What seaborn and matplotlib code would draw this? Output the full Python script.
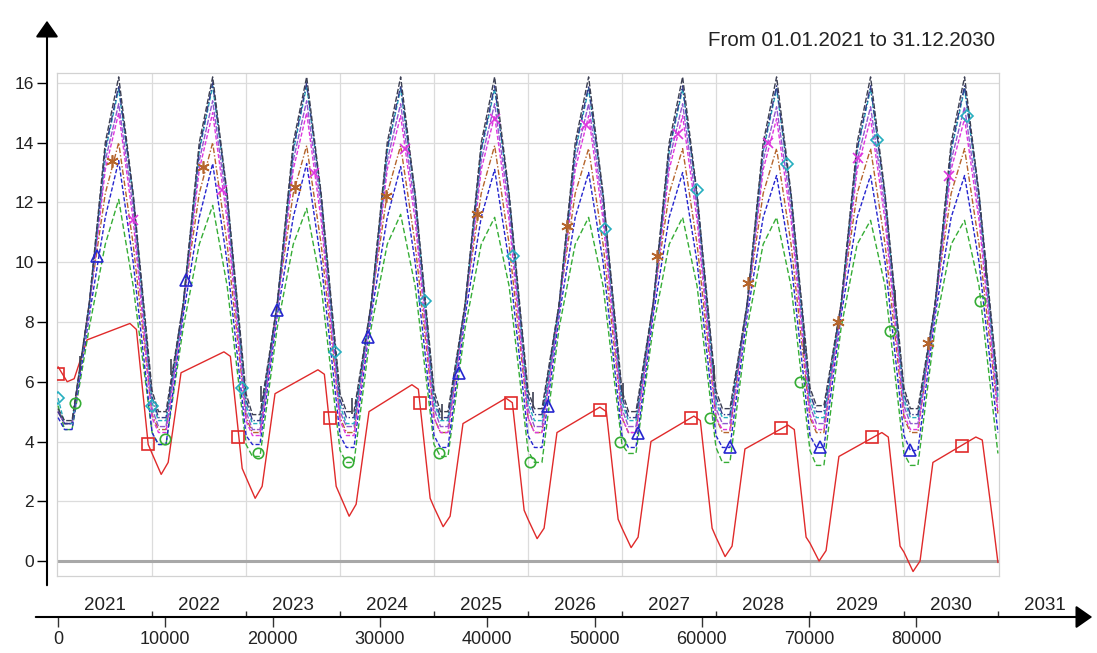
import numpy as np
import pandas as pd
import matplotlib
matplotlib.use("Agg")
import matplotlib.pyplot as plt
import matplotlib.transforms as mtransforms
import seaborn as sns

# ---- data (x = simulation hour, y = value) ----
HOURS_PER_YEAR = 8760
years = [2021, 2022, 2023, 2024, 2025, 2026, 2027, 2028, 2029, 2030, 2031]
hour_ticks = [0, 10000, 20000, 30000, 40000, 50000, 60000, 70000, 80000]
value_ticks = [0, 2, 4, 6, 8, 10, 12, 14, 16]
period_text = "From 01.01.2021 to 31.12.2030"

series_names = ["dark", "navy", "cyan", "purple", "magenta", "brown", "blue", "green"]

# hours into each year of the knots: year start, trough floor (2 pts), low bend, high bend, peak, fall bend
cycle_phase = [0, 600, 1300, 2900, 4400, 5650, 7000]
low_bend = [8.6, 8.6, 8.5, 8.5, 8.4, 8.6, 8.2, 7.8]
high_bend = [14.0, 13.8, 13.7, 13.4, 13.1, 12.3, 11.5, 10.6]
fall_bend = [12.3, 12.2, 12.2, 11.8, 11.4, 10.6, 10.0, 9.2]

dark_start = [5.1, 5.7, 5.6, 5.6, 5.7, 5.7, 5.7, 5.7, 5.8, 5.8, 5.9]
dark_trough = [4.7, 5.0, 4.9, 5.0, 5.0, 5.1, 5.0, 5.1, 5.2, 5.1]
dark_peak = [16.2, 16.2, 16.2, 16.2, 16.2, 16.2, 16.2, 16.2, 16.2, 16.2]

navy_start = [5.0, 5.5, 5.4, 5.4, 5.5, 5.5, 5.5, 5.5, 5.6, 5.6, 5.7]
navy_trough = [4.6, 4.8, 4.7, 4.8, 4.8, 4.9, 4.8, 4.9, 5.0, 4.9]
navy_peak = [15.9, 16.0, 16.0, 15.9, 15.9, 15.9, 15.9, 15.9, 15.9, 15.9]

cyan_start = [5.45, 5.3, 5.2, 5.2, 5.3, 5.3, 5.3, 5.3, 5.4, 5.4, 5.5]
cyan_trough = [4.6, 4.7, 4.6, 4.6, 4.7, 4.7, 4.7, 4.8, 4.8, 4.8]
cyan_peak = [15.8, 15.9, 15.9, 15.8, 15.8, 15.8, 15.8, 15.8, 15.8, 15.8]

purple_start = [5.0, 5.1, 5.0, 5.0, 5.1, 5.1, 5.1, 5.1, 5.2, 5.2, 5.3]
purple_trough = [4.6, 4.5, 4.4, 4.5, 4.5, 4.5, 4.5, 4.6, 4.6, 4.6]
purple_peak = [15.3, 15.4, 15.4, 15.3, 15.3, 15.3, 15.3, 15.2, 15.2, 15.2]

magenta_start = [5.0, 4.8, 4.7, 4.7, 4.8, 4.8, 4.8, 4.8, 4.9, 4.9, 5.0]
magenta_trough = [4.6, 4.3, 4.2, 4.2, 4.3, 4.3, 4.3, 4.4, 4.4, 4.4]
magenta_peak = [15.0, 15.0, 15.0, 14.9, 14.9, 14.9, 14.9, 14.8, 14.8, 14.8]

brown_start = [5.0, 4.9, 4.8, 4.8, 4.8, 4.8, 4.8, 4.8, 4.8, 4.8, 4.9]
brown_trough = [4.6, 4.4, 4.3, 4.3, 4.3, 4.3, 4.3, 4.3, 4.3, 4.3]
brown_peak = [14.0, 14.0, 13.9, 13.9, 13.9, 13.8, 13.8, 13.8, 13.8, 13.8]

blue_start = [4.8, 4.3, 4.2, 4.2, 4.2, 4.2, 4.2, 4.2, 4.2, 4.2, 4.3]
blue_trough = [4.4, 3.9, 3.9, 3.8, 3.8, 3.8, 3.8, 3.8, 3.8, 3.7]
blue_peak = [13.4, 13.3, 13.3, 13.2, 13.1, 13.0, 13.0, 12.9, 12.9, 12.9]

green_start = [5.2, 4.3, 3.9, 3.7, 3.9, 3.7, 3.9, 3.8, 3.7, 3.6, 3.6]
green_trough = [4.4, 3.9, 3.5, 3.3, 3.5, 3.3, 3.6, 3.3, 3.2, 3.2]
green_peak = [12.1, 11.9, 11.8, 11.6, 11.5, 11.5, 11.5, 11.5, 11.4, 11.4]

# red curve has its own yearly shape
red_phase = [0, 850, 1500, 2700, 6700, 7300, 8400]
red_start = [6.5, 3.6, 2.8, 2.2, 1.8, 1.4, 1.1, 0.8, 0.6, 0.3]
red_trough = [6.0, 2.9, 2.1, 1.5, 1.15, 0.75, 0.45, 0.15, 0.0, -0.35]
red_floor = [6.1, 3.3, 2.5, 1.9, 1.5, 1.1, 0.8, 0.5, 0.35, 0.0]
red_bend = [7.4, 6.3, 5.6, 5.0, 4.6, 4.3, 4.0, 3.75, 3.5, 3.3]
red_peak = [7.95, 7.0, 6.4, 5.9, 5.45, 5.15, 4.85, 4.55, 4.3, 4.15]
red_plateau = [7.75, 6.85, 6.25, 5.75, 5.3, 5.0, 4.7, 4.4, 4.15, 4.05]
red_drop = [3.9, 3.1, 2.5, 2.1, 1.7, 1.4, 1.1, 0.8, 0.5, 1.0]
red_end = -0.05

# sparse marker points
square_hours = [0, 8390, 16780, 25350, 33740, 42220, 50510, 59000, 67380, 75860, 84250]
square_values = [6.25, 3.9, 4.15, 4.8, 5.3, 5.3, 5.05, 4.8, 4.45, 4.15, 3.85]
circle_hours = [1580, 9970, 18640, 27030, 35510, 43990, 52380, 60770, 69150, 77540, 85930]
circle_values = [5.3, 4.1, 3.6, 3.3, 3.6, 3.3, 4.0, 4.8, 6.0, 7.7, 8.7]
triangle_hours = [3630, 11930, 20410, 28890, 37370, 45670, 54060, 62630, 71020, 79410]
triangle_values = [10.2, 9.4, 8.4, 7.5, 6.3, 5.2, 4.3, 3.8, 3.8, 3.7]
star_hours = [5030, 13510, 22090, 30570, 39050, 47440, 55830, 64310, 72700, 81080]
star_values = [13.4, 13.2, 12.5, 12.2, 11.6, 11.2, 10.2, 9.3, 8.0, 7.3]
cross_hours = [6990, 15280, 23860, 32340, 40730, 49210, 57780, 66170, 74560, 83040]
cross_values = [11.4, 12.4, 13.0, 13.8, 14.8, 14.6, 14.3, 14.0, 13.5, 12.9]
diamond_hours = [0, 8760, 17150, 25820, 34200, 42410, 50980, 59550, 67940, 76330, 84720]
diamond_values = [5.45, 5.2, 5.8, 7.0, 8.7, 10.2, 11.1, 12.4, 13.3, 14.1, 14.9]
bar_hours = [2050, 10490, 18930, 27370, 35810, 44250, 52690, 61130, 69570, 78010, 86450]
bar_values = [6.6, 6.5, 5.6, 5.2, 5.0, 5.4, 5.7, 6.3, 7.2, 8.8, 9.8]

# ---- long table for seaborn ----
cycles = {
    "dark": (dark_start, dark_trough, dark_peak),
    "navy": (navy_start, navy_trough, navy_peak),
    "cyan": (cyan_start, cyan_trough, cyan_peak),
    "purple": (purple_start, purple_trough, purple_peak),
    "magenta": (magenta_start, magenta_trough, magenta_peak),
    "brown": (brown_start, brown_trough, brown_peak),
    "blue": (blue_start, blue_trough, blue_peak),
    "green": (green_start, green_trough, green_peak),
}
records = []
for i, name in enumerate(series_names):
    start, trough, peak = cycles[name]
    for k in range(len(peak)):
        year0 = k * HOURS_PER_YEAR
        vals = [start[k], trough[k], trough[k], low_bend[i], high_bend[i], peak[k], fall_bend[i]]
        for ph, v in zip(cycle_phase, vals):
            records.append((year0 + ph, v, name))
    records.append((len(peak) * HOURS_PER_YEAR, start[-1], name))

for k in range(len(red_peak)):
    year0 = k * HOURS_PER_YEAR
    vals = [red_start[k], red_trough[k], red_floor[k], red_bend[k], red_peak[k], red_plateau[k], red_drop[k]]
    for ph, v in zip(red_phase, vals):
        records.append((year0 + ph, v, "red"))
records.append((len(red_peak) * HOURS_PER_YEAR, red_end, "red"))

df = pd.DataFrame(records, columns=["hour", "value", "series"])

# ---- style ----
colors = {
    "red": "#e02a2a", "green": "#35ad35", "blue": "#2626cf", "brown": "#b5652c",
    "magenta": "#de36de", "purple": "#9158cf", "cyan": "#25aebf", "navy": "#343a8c",
    "dark": "#3c3f52",
}
dashes = {
    "red": "", "green": (4, 2), "blue": (3, 1.5), "brown": (4, 1.5, 1, 1.5),
    "magenta": (3, 1.5), "purple": (4, 1.2), "cyan": (3, 1.5), "navy": (5, 1.5, 1, 1.5),
    "dark": (4, 1.5),
}
draw_order = ["red", "green", "blue", "brown", "magenta", "purple", "cyan", "navy", "dark"]

sns.set_theme(style="white")
plt.rcParams["font.family"] = ["Liberation Sans", "DejaVu Sans"]
text_color = "#222222"

W, H = 1097, 653
fig = plt.figure(figsize=(W / 100, H / 100), dpi=100)
left_px, right_px, top_px, bottom_px = 57, 999, 73, 576
ax = fig.add_axes([left_px / W, 1 - bottom_px / H, (right_px - left_px) / W, (bottom_px - top_px) / H])

sns.lineplot(data=df, x="hour", y="value", hue="series", style="series",
             hue_order=draw_order, style_order=draw_order, palette=colors, dashes=dashes,
             estimator=None, sort=False, linewidth=1.0, legend=False, ax=ax, zorder=3)

marker_sets = [
    ("red", "s", square_hours, square_values, 8),
    ("green", "o", circle_hours, circle_values, 7.5),
    ("blue", "^", triangle_hours, triangle_values, 8),
    ("brown", (6, 2, 0), star_hours, star_values, 9),
    ("magenta", "x", cross_hours, cross_values, 7.5),
    ("cyan", "D", diamond_hours, diamond_values, 6.5),
    ("dark", "|", bar_hours, bar_values, 11),
]
for name, mk, hx, hy, ms in marker_sets:
    ax.plot(hx, hy, ls="none", marker=mk, ms=ms, mfc="none", mec=colors[name],
            mew=1.2, zorder=4)

year_edges = [k * HOURS_PER_YEAR for k in range(len(years))]
ax.set_xlim(-100, 87700)
ax.set_ylim(-0.5, 16.33)
ax.set_xticks(year_edges[1:-1])
ax.set_yticks(value_ticks)
ax.tick_params(length=0, labelbottom=False, labelleft=False)
ax.set_xlabel("")
ax.set_ylabel("")
ax.grid(True, color="#dcdcdc", linewidth=0.9)
for sp in ax.spines.values():
    sp.set_color("#d2d2d2")
    sp.set_linewidth(0.9)
ax.axhline(0, color="#a8a8a8", linewidth=2.2, zorder=2)

# outer value axis with arrow
axis_x = (47 - left_px) / (right_px - left_px)
secy = ax.secondary_yaxis(axis_x)
secy.set_yticks(value_ticks)
secy.tick_params(axis="y", direction="out", length=7, width=1, color="black",
                 labelsize=12.5, labelcolor=text_color, pad=2.5)
for sp in secy.spines.values():
    sp.set_visible(False)
ax.annotate("", xy=(axis_x, (bottom_px - 18) / (bottom_px - top_px)),
            xytext=(axis_x, (bottom_px - 588) / (bottom_px - top_px)),
            xycoords="axes fraction", annotation_clip=False,
            arrowprops=dict(arrowstyle="-|>,head_length=0.5,head_width=0.35",
                            color="black", lw=1.5, mutation_scale=20))

# outer time axis: hours below, years above, with arrow
axis_y = (bottom_px - 617) / (bottom_px - top_px)
secx = ax.secondary_xaxis(axis_y)
secx.set_xticks(hour_ticks)
secx.set_xticks(year_edges, minor=True)
secx.tick_params(axis="x", which="major", direction="out", length=7, width=1,
                 color="#333333", labelsize=13, labelcolor=text_color, pad=3)
secx.tick_params(axis="x", which="minor", direction="in", length=4, width=1,
                 color="#333333")
for sp in secx.spines.values():
    sp.set_visible(False)
ax.annotate("", xy=((1095 - left_px) / (right_px - left_px), axis_y),
            xytext=((33 - left_px) / (right_px - left_px), axis_y),
            xycoords="axes fraction", annotation_clip=False,
            arrowprops=dict(arrowstyle="-|>,head_length=0.5,head_width=0.35",
                            color="black", lw=1.5, mutation_scale=20))

blend = mtransforms.blended_transform_factory(ax.transData, ax.transAxes)
year_y = (bottom_px - 605) / (bottom_px - top_px)
for k, yr in enumerate(years):
    ax.text(year_edges[k] + HOURS_PER_YEAR / 2, year_y, str(yr), transform=blend,
            ha="center", va="center", fontsize=13.5, color=text_color, clip_on=False)

fig.text(995 / W, 1 - 40 / H, period_text, ha="right", va="center",
         fontsize=14.8, color=text_color)

fig.savefig("out.png", dpi=100)
